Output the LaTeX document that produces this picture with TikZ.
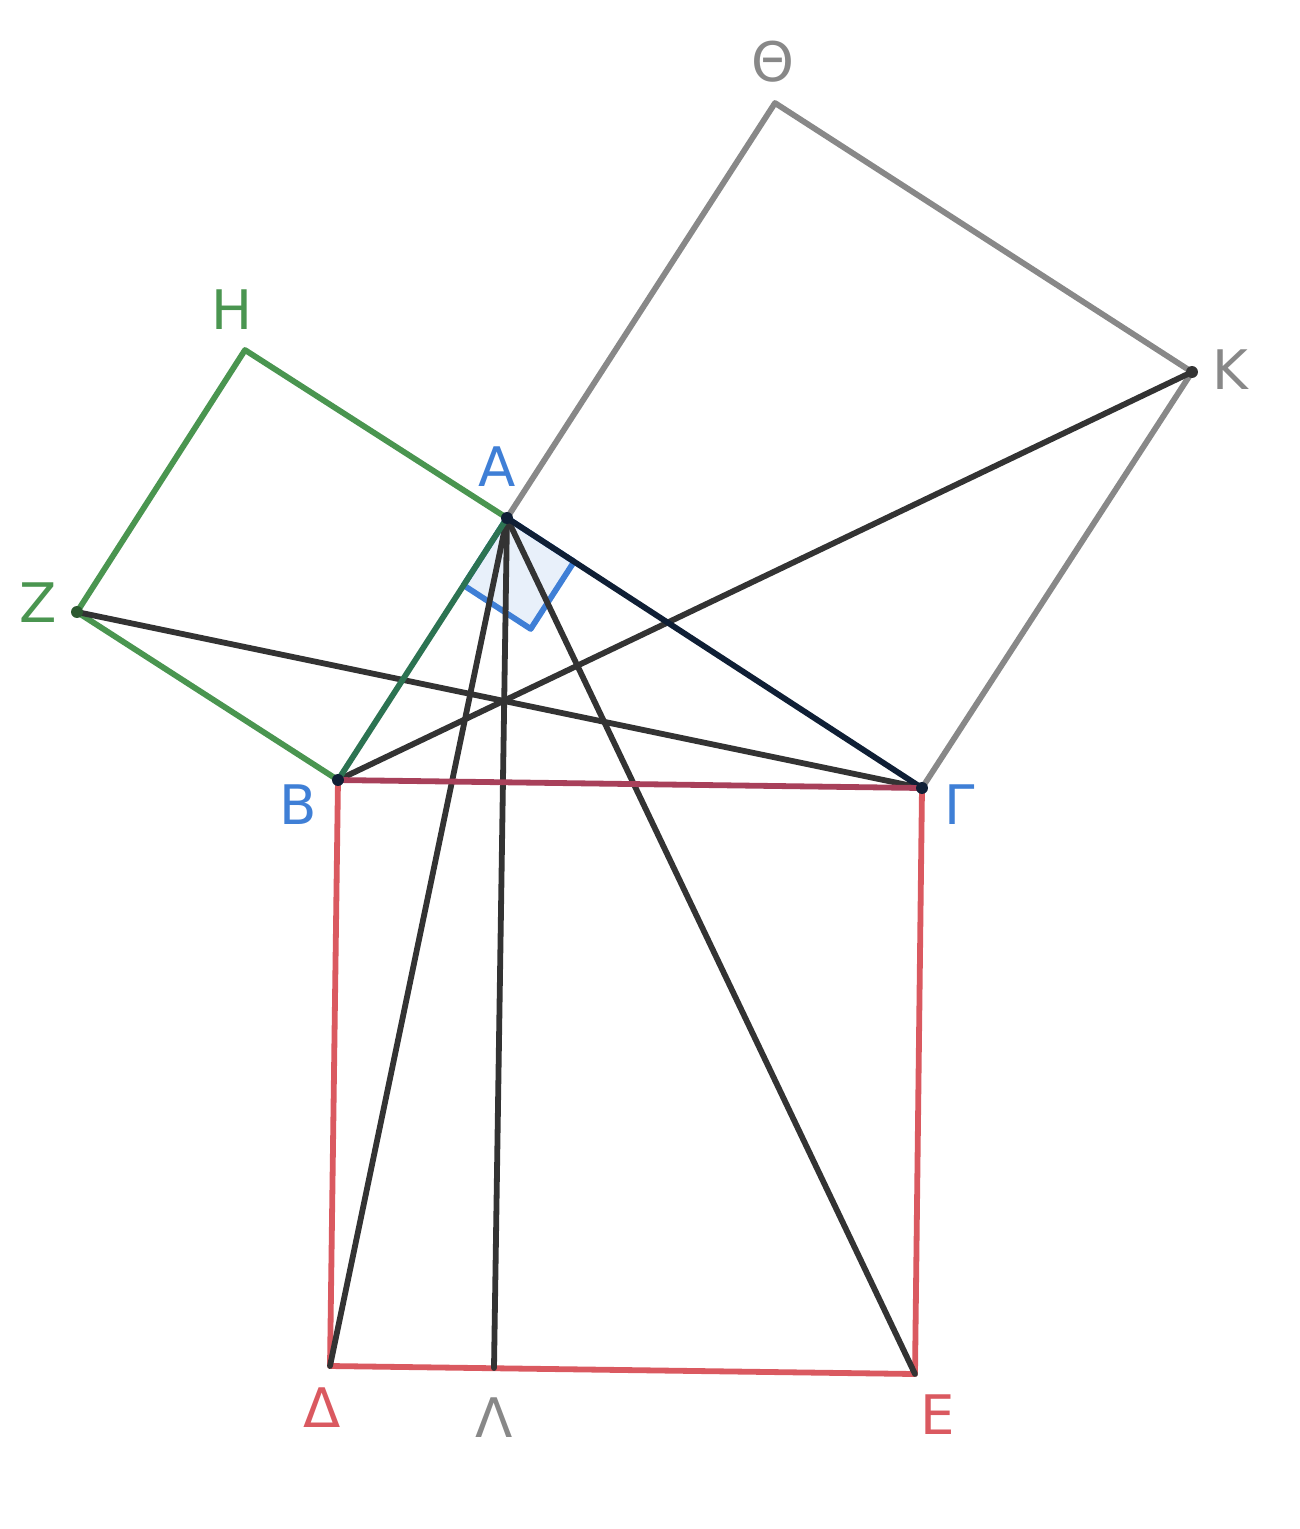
\documentclass[tikz,border=0pt]{standalone}
\usepackage{fontspec}
\setmainfont{DejaVu Sans}
\usetikzlibrary{calc}
\definecolor{grn}{HTML}{4A9550}
\definecolor{gry}{HTML}{888888}
\definecolor{rd}{HTML}{DA5960}
\definecolor{blu}{HTML}{3F7FD6}
\definecolor{dark}{HTML}{333333}
\definecolor{navy}{HTML}{0F1F35}
\definecolor{teal}{HTML}{2C7352}
\definecolor{wine}{HTML}{A8405A}

\begin{document}
\begin{tikzpicture}[x=0.01cm,y=-0.01cm,line join=round,line cap=round]
  \tikzstyle{lbl}=[font=\fontsize{15.5}{18}\selectfont,inner sep=0pt]
  \tikzstyle{side}=[line width=1.65pt]
  \tikzstyle{dot}=[circle,fill=#1,inner sep=0pt,minimum size=3.4pt]
  \useasboundingbox (0,0) rectangle (1300,1529);

  \coordinate (A) at (507,518);
  \coordinate (B) at (338,780);
  \coordinate (G) at (922,788);
  \coordinate (D) at (330,1366);
  \coordinate (E) at (915,1374);
  \coordinate (L) at (494,1368);
  \coordinate (H) at (245,350);
  \coordinate (Z) at (77,612);
  \coordinate (T) at (775,103);
  \coordinate (K) at (1192,372);

  % right angle at A
  \coordinate (ra1) at ($(A)!0.8cm!(B)$);
  \coordinate (ra2) at ($(A)!0.8cm!(G)$);
  \filldraw[blu,fill=blu!12,side] (A) -- (ra1) -- ($(ra1)+(ra2)-(A)$) -- (ra2) -- cycle;

  % squares on the sides
  \draw[side,grn] (B) -- (Z) -- (H) -- (A);
  \draw[side,gry] (A) -- (T) -- (K) -- (G);
  \draw[side,rd] (B) -- (D) -- (E) -- (G);

  % joining lines
  \draw[side,dark] (Z) -- (G);
  \draw[side,dark] (B) -- (K);
  \draw[side,dark] (A) -- (D);
  \draw[side,dark] (A) -- (L);
  \draw[side,dark] (A) -- (E);

  % triangle
  \draw[side,teal] (A) -- (B);
  \draw[side,navy] (A) -- (G);
  \draw[side,wine] (B) -- (G);

  \node[dot=navy] (pA) at (A) {};
  \node[dot=navy] (pB) at (B) {};
  \node[dot=navy] (pG) at (G) {};
  \node[dot=dark] (pK) at (K) {};
  \node[dot=grn!60!black] (pZ) at (Z) {};

  % labels
  \node[lbl,blu] (lA) at (497,467) {Α};
  \node[lbl,blu] (lB) at (298,805) {Β};
  \node[lbl,blu] (lG) at (960,805) {Γ};
  \node[lbl,rd] (lD) at (322,1408) {Δ};
  \node[lbl,gry] (lL) at (494,1418) {Λ};
  \node[lbl,rd] (lE) at (938,1415) {Ε};
  \node[lbl,gry] (lT) at (773,62) {Θ};
  \node[lbl,gry] (lK) at (1230,370) {Κ};
  \node[lbl,grn] (lZ) at (38,603) {Ζ};
  \node[lbl,grn] (lH) at (232,310) {Η};
\end{tikzpicture}
\end{document}
